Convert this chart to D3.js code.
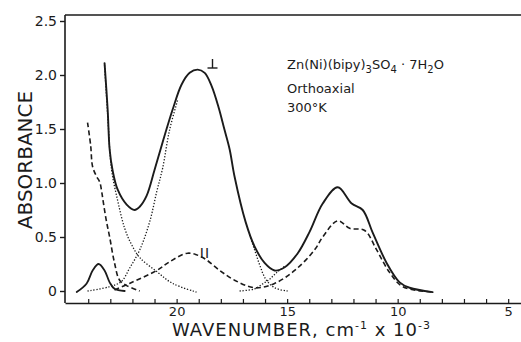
<!DOCTYPE html>
<html>
<head>
<meta charset="utf-8">
<script src="https://cdn.jsdelivr.net/npm/d3@7"></script>
<style>
  html, body { margin: 0; padding: 0; background: #fff; }
  svg { display: block; }
  text { font-family: "DejaVu Sans", sans-serif; fill: #1b1b1b; }
</style>
</head>
<body>
<svg id="chart" width="521" height="342"></svg>
<script>
// Absorption spectra of Zn(Ni)(bipy)3SO4·7H2O, orthoaxial, 300 K.
// Each point is [wavenumber (10^3 cm^-1), absorbance].

// Perpendicular polarisation, measured (solid)
const perpSpectrum = [
  [23.26, 2.11], [23.12, 1.68], [23.03, 1.31], [22.90, 1.12], [22.67, 0.94],
  [22.26, 0.80], [21.90, 0.75], [21.67, 0.78], [21.36, 0.88], [21.00, 1.12],
  [20.63, 1.38], [20.18, 1.68], [19.78, 1.91], [19.41, 2.02], [19.05, 2.05],
  [18.73, 2.02], [18.42, 1.90], [18.10, 1.70], [17.83, 1.49], [17.60, 1.31],
  [17.38, 1.06], [16.88, 0.64], [16.47, 0.41], [16.02, 0.26], [15.57, 0.19],
  [15.11, 0.22], [14.52, 0.35], [13.98, 0.55], [13.39, 0.81], [12.71, 0.96],
  [12.08, 0.81], [11.58, 0.75], [11.13, 0.54], [10.50, 0.26], [9.91, 0.08],
  [9.46, 0.03], [8.42, -0.01]
];

// Small high-energy band (solid)
const uvBand = [
  [24.52, -0.01], [24.07, 0.07], [23.80, 0.19], [23.53, 0.25], [23.26, 0.19],
  [23.03, 0.08], [22.81, 0.02], [22.35, 0.0]
];

// Parallel polarisation, charge-transfer edge (dashed)
const parEdge = [
  [24.03, 1.56], [23.89, 1.35], [23.80, 1.15], [23.62, 1.06], [23.48, 1.01],
  [23.39, 0.92], [23.30, 0.80], [23.17, 0.64], [23.03, 0.50], [22.81, 0.26],
  [22.58, 0.10], [22.26, 0.05], [21.67, 0.0]
];

// Parallel polarisation, measured (dashed)
const parSpectrum = [
  [22.81, 0.01], [22.13, 0.07], [20.90, 0.19], [20.32, 0.27], [19.50, 0.35],
  [18.82, 0.31], [18.05, 0.19], [17.38, 0.10], [16.47, 0.03], [15.57, 0.07],
  [14.66, 0.19], [13.76, 0.38], [13.39, 0.50], [12.71, 0.65], [12.17, 0.58],
  [11.49, 0.56], [10.95, 0.38], [10.36, 0.17], [9.77, 0.04], [8.42, -0.01]
];

// Resolved components (dotted)
const ctTail = [
  [23.26, 2.09], [23.12, 1.63], [22.94, 1.12], [22.67, 0.84], [22.35, 0.58],
  [22.04, 0.43], [21.67, 0.31], [20.90, 0.18], [20.18, 0.07], [19.10, -0.01]
];
const band19Rise = [
  [24.03, 0.0], [23.03, 0.04], [22.49, 0.09], [22.13, 0.21], [21.67, 0.38],
  [21.22, 0.64], [20.90, 0.92], [20.63, 1.14], [20.32, 1.49], [19.95, 1.77]
];
const band19Fall = [
  [16.70, 0.52], [16.47, 0.38], [16.24, 0.24], [15.97, 0.11], [15.57, 0.03],
  [14.98, 0.0]
];
const band13Rise = [
  [17.15, 0.0], [16.47, 0.02], [16.15, 0.06], [15.79, 0.11], [15.48, 0.17],
  [15.11, 0.23]
];

// Axis ticks and labels
const yTicks = [0, 0.5, 1.0, 1.5, 2.0, 2.5];
const yTickLabels = ["0", "0.5", "1.0", "1.5", "2.0", "2.5"];
const xTicks = d3.range(24, 4, -1);
const xTickLabels = { 20: "20", 15: "15", 10: "10", 5: "5" };

const svg = d3.select("#chart");
const ink = "#1b1b1b";

const x = d3.scaleLinear().domain([25.05, 4.42]).range([65, 521]);
const y = d3.scaleLinear().domain([0, 2.5]).range([291, 21]);

const axisTop = 15, axisBottom = 303, axisLeft = 65;

// Frame lines
svg.append("line")
  .attr("x1", axisLeft).attr("x2", axisLeft)
  .attr("y1", axisTop).attr("y2", axisBottom)
  .attr("stroke", ink).attr("stroke-width", 1.6);
svg.append("line")
  .attr("x1", axisLeft).attr("x2", 521)
  .attr("y1", axisTop).attr("y2", axisTop)
  .attr("stroke", ink).attr("stroke-width", 1.4);

// Y axis
const yAxis = svg.append("g")
  .attr("transform", `translate(${axisLeft},0)`)
  .call(d3.axisLeft(y)
    .tickValues(yTicks)
    .tickFormat((d, i) => yTickLabels[i])
    .tickSize(5)
    .tickPadding(3));
yAxis.select(".domain").remove();
yAxis.selectAll("line").attr("stroke", ink).attr("stroke-width", 1.4);
yAxis.selectAll("text")
  .attr("font-family", "DejaVu Sans, sans-serif")
  .attr("font-size", 14).attr("fill", ink);

// X axis with inward ticks
const xAxis = svg.append("g")
  .attr("transform", `translate(0,${axisBottom})`)
  .call(d3.axisBottom(x)
    .tickValues(xTicks)
    .tickFormat(d => xTickLabels[d] || "")
    .tickSizeInner(-4)
    .tickSizeOuter(0)
    .tickPadding(4));
xAxis.select(".domain").attr("stroke", ink).attr("stroke-width", 1.6);
xAxis.selectAll("line").attr("stroke", ink).attr("stroke-width", 1.2);
xAxis.selectAll("text")
  .attr("font-family", "DejaVu Sans, sans-serif")
  .attr("font-size", 13).attr("fill", ink);

// Axis titles
svg.append("text")
  .attr("transform", "translate(32,160) rotate(-90)")
  .attr("text-anchor", "middle")
  .attr("font-size", 20)
  .text("ABSORBANCE");

const xTitle = svg.append("text")
  .attr("x", 172).attr("y", 336)
  .attr("font-size", 18)
  .attr("letter-spacing", 1);
xTitle.append("tspan").text("WAVENUMBER, cm");
xTitle.append("tspan").attr("font-size", 11).attr("dy", -7).text("-1");
xTitle.append("tspan").attr("dy", 7).text(" x 10");
xTitle.append("tspan").attr("font-size", 11).attr("dy", -7).text("-3");

// Curves
const line = d3.line()
  .x(d => x(d[0]))
  .y(d => y(d[1]))
  .curve(d3.curveCatmullRom.alpha(0.5));

function draw(data, width, dash) {
  svg.append("path")
    .datum(data)
    .attr("d", line)
    .attr("fill", "none")
    .attr("stroke", ink)
    .attr("stroke-width", width)
    .attr("stroke-linecap", dash ? "butt" : "round")
    .attr("stroke-linejoin", "round")
    .attr("stroke-dasharray", dash);
}

draw(ctTail, 1.3, "1.3,1.7");
draw(band19Rise, 1.3, "1.3,1.7");
draw(band19Fall, 1.3, "1.3,1.7");
draw(band13Rise, 1.3, "1.3,1.7");
draw(parEdge, 1.6, "5,3");
draw(parSpectrum, 1.6, "5,3");
draw(uvBand, 1.8, null);
draw(perpSpectrum, 1.9, null);

// Polarisation marks: perpendicular symbol drawn as two strokes, parallel as text
const perpMark = svg.append("g").attr("stroke", ink).attr("stroke-width", 1.4);
perpMark.append("line").attr("x1", 212.5).attr("x2", 212.5).attr("y1", 59).attr("y2", 68);
perpMark.append("line").attr("x1", 207.5).attr("x2", 217.5).attr("y1", 68).attr("y2", 68);

svg.append("text").attr("x", 205).attr("y", 258)
  .attr("text-anchor", "middle").attr("font-size", 14)
  .attr("letter-spacing", 1).text("II");

// Sample annotation
const formula = svg.append("text").attr("x", 287).attr("y", 69).attr("font-size", 13);
formula.append("tspan").text("Zn(Ni)(bipy)");
formula.append("tspan").attr("font-size", 10).attr("dy", 4).text("3");
formula.append("tspan").attr("dy", -4).text("SO");
formula.append("tspan").attr("font-size", 10).attr("dy", 4).text("4");
formula.append("tspan").attr("dy", -4).text(" · 7H");
formula.append("tspan").attr("font-size", 10).attr("dy", 4).text("2");
formula.append("tspan").attr("dy", -4).text("O");

svg.append("text").attr("x", 287).attr("y", 93).attr("font-size", 13).text("Orthoaxial");
svg.append("text").attr("x", 287).attr("y", 112).attr("font-size", 13).text("300°K");
</script>
</body>
</html>
